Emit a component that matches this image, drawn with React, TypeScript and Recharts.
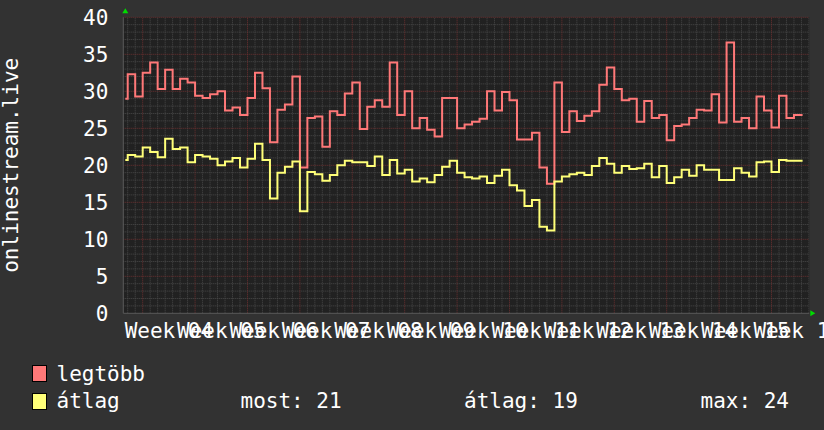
import React from 'react';
import { LineChart, Line, XAxis, YAxis, ReferenceLine, ReferenceDot, CartesianGrid } from 'recharts';

// daily values, first one is a partial day at the left edge
const maxValues = [
  29.0, 32.3, 29.3, 32.5, 33.9, 30.3, 32.9, 30.3, 31.7, 31.2,
  29.4, 29.1, 29.6, 30.0, 27.4, 27.8, 26.8, 29.1, 32.5, 30.4,
  23.1, 27.5, 28.2, 32.0, 19.7, 26.4, 26.6, 22.5, 27.3, 26.8,
  29.7, 31.2, 24.9, 27.9, 28.8, 27.9, 33.9, 26.8, 30.0, 25.0,
  26.4, 24.8, 23.9, 29.1, 29.1, 25.0, 25.5, 25.9, 26.3, 30.0,
  27.4, 29.9, 28.8, 23.5, 23.5, 24.4, 19.7, 17.5, 31.2, 24.5,
  27.3, 26.0, 26.7, 27.3, 30.9, 33.2, 30.3, 28.8, 29.0, 25.9,
  28.7, 26.4, 26.8, 23.4, 25.3, 25.5, 26.4, 27.5, 27.4, 29.6,
  25.8, 36.6, 25.9, 26.4, 25.0, 29.3, 27.4, 25.1, 29.4, 26.4,
  26.8,
];

const avgValues = [
  20.7, 21.4, 21.2, 22.4, 21.8, 21.1, 23.6, 22.2, 22.4, 20.4,
  21.4, 21.2, 20.9, 20.0, 20.5, 21.0, 19.7, 20.9, 22.9, 20.7,
  15.5, 19.0, 19.8, 20.5, 13.8, 19.1, 18.8, 17.9, 18.7, 20.0,
  20.6, 20.4, 20.4, 19.9, 21.2, 18.7, 20.7, 18.9, 19.4, 17.8,
  18.2, 17.7, 18.7, 19.8, 20.6, 19.0, 18.4, 18.2, 18.5, 17.6,
  18.6, 19.4, 17.3, 16.6, 14.5, 15.3, 11.7, 11.2, 17.8, 18.5,
  18.8, 19.0, 18.7, 19.9, 21.0, 20.2, 19.0, 19.9, 19.5, 19.6,
  20.2, 18.4, 19.9, 17.6, 18.4, 19.4, 18.6, 20.0, 19.4, 19.4,
  18.0, 18.0, 19.6, 19.0, 18.5, 20.4, 20.5, 19.1, 20.7, 20.6,
  20.6,
];

const weekLabels = [
  'Week 04', 'Week 05', 'Week 06', 'Week 07', 'Week 08', 'Week 09', 'Week 10',
  'Week 11', 'Week 12', 'Week 13', 'Week 14', 'Week 15', 'Week 16',
];

const yTicks = [0, 5, 10, 15, 20, 25, 30, 35, 40];

// time axis in days, 0 = first week boundary
const X_MIN = -2.59;
const X_MAX = 89.05;
const FIRST_T = -2.32;
const LAST_T = 88.15;

const data = maxValues.map((v, i) => ({
  t: i === 0 ? FIRST_T : i - 3,
  max: v,
  avg: avgValues[i],
}));
data.push({ t: LAST_T, max: maxValues[maxValues.length - 1], avg: avgValues[avgValues.length - 1] });

const weekCenters = weekLabels.map((_, i) => i * 7 + 3.5);
const weekLines = weekLabels.map((_, i) => i * 7);
const dayLines: number[] = [];
for (let d = -2; d <= 89; d++) if (d % 7 !== 0) dayLines.push(d);
const unitLines: number[] = [];
for (let u = 1; u < 40; u++) if (u % 5 !== 0) unitLines.push(u);

const FONT = 'DejaVu Sans Mono';
const RED = '#ff7878';
const YELLOW = '#ffff78';
const MINOR = '#4a4a4a';
const MAJOR = '#6e3030';

const last = avgValues[avgValues.length - 1];
const mean = avgValues.reduce((a, b) => a + b, 0) / avgValues.length;
const peak = Math.max(...avgValues);

const WeekTick = ({ x, y, index }: any) => (
  <text x={x} y={y + 25} textAnchor="middle" fill="#ffffff" fontSize={21} fontFamily={FONT}>
    {weekLabels[index]}
  </text>
);

const UpArrow = ({ cx, cy }: any) => (
  <polygon points={`${cx - 1},${cy - 4} ${cx + 5},${cy - 4} ${cx + 2},${cy - 9}`} fill="#00dd00" />
);
const RightArrow = ({ cx, cy }: any) => (
  <polygon points={`${cx + 1},${cy - 3} ${cx + 1},${cy + 3} ${cx + 6},${cy}`} fill="#00dd00" />
);

export default function App() {
  return (
    <div style={{ position: 'relative', width: 824, height: 430, background: '#323232' }}>
      <style>{'body{margin:0;background:#323232}'}</style>
      <LineChart
        width={824}
        height={430}
        data={data}
        margin={{ top: 17.3, right: 14.7, left: 0, bottom: 76.7 }}
      >
        <CartesianGrid fill="#212121" horizontal={false} vertical={false} />
        {dayLines.map((d) => (
          <ReferenceLine key={'d' + d} x={d} stroke={MINOR} strokeDasharray="1 1" ifOverflow="hidden" />
        ))}
        {unitLines.map((u) => (
          <ReferenceLine key={'u' + u} y={u} stroke={MINOR} strokeDasharray="1 1" />
        ))}
        {weekLines.map((w) => (
          <ReferenceLine key={'w' + w} x={w} stroke={MAJOR} strokeDasharray="1 1" />
        ))}
        {yTicks.slice(1).map((v) => (
          <ReferenceLine key={'y' + v} y={v} stroke={MAJOR} strokeDasharray="1 1" />
        ))}
        <XAxis
          type="number"
          dataKey="t"
          domain={[X_MIN, X_MAX]}
          allowDataOverflow
          ticks={weekCenters}
          interval={0}
          tick={<WeekTick />}
          tickLine={false}
          tickSize={0}
          tickMargin={0}
          height={40}
          axisLine={{ stroke: '#5a5a5a' }}
        />
        <YAxis
          type="number"
          domain={[0, 40]}
          ticks={yTicks}
          interval={0}
          width={123.3}
          tickLine={false}
          tickSize={0}
          tickMargin={15}
          axisLine={{ stroke: '#5a5a5a' }}
          tick={{ fill: '#ffffff', fontSize: 21, fontFamily: FONT }}
          label={({ viewBox }: any) => (
            <text
              x={18.5}
              y={viewBox.y + viewBox.height / 2}
              transform={`rotate(-90, 18.5, ${viewBox.y + viewBox.height / 2})`}
              textAnchor="middle"
              fill="#ffffff"
              fontSize={21}
              fontFamily={FONT}
            >
              onlinestream.live
            </text>
          )}
        />
        <Line
          type="stepAfter"
          dataKey="max"
          stroke={RED}
          strokeWidth={2}
          dot={false}
          isAnimationActive={false}
        />
        <Line
          type="stepAfter"
          dataKey="avg"
          stroke={YELLOW}
          strokeWidth={2}
          dot={false}
          isAnimationActive={false}
        />
        <ReferenceDot x={X_MIN} y={40} r={0} ifOverflow="visible" shape={<UpArrow />} />
        <ReferenceDot x={X_MAX} y={0} r={0} ifOverflow="visible" shape={<RightArrow />} />
      </LineChart>
      <svg
        width={824}
        height={80}
        style={{ position: 'absolute', left: 0, top: 350 }}
        fontFamily={FONT}
        fontSize={21}
        fill="#ffffff"
      >
        <rect x={32.5} y={15.5} width={14} height={16} fill={RED} stroke="#000" />
        <text x={56.5} y={30.5}>legtöbb</text>
        <rect x={32.5} y={43.5} width={14} height={16} fill={YELLOW} stroke="#000" />
        <text x={56.5} y={58}>átlag</text>
        <text x={240.5} y={58}>{'most: ' + Math.round(last)}</text>
        <text x={464} y={58}>{'átlag: ' + Math.round(mean)}</text>
        <text x={700.5} y={58}>{'max: ' + Math.round(peak)}</text>
      </svg>
    </div>
  );
}
